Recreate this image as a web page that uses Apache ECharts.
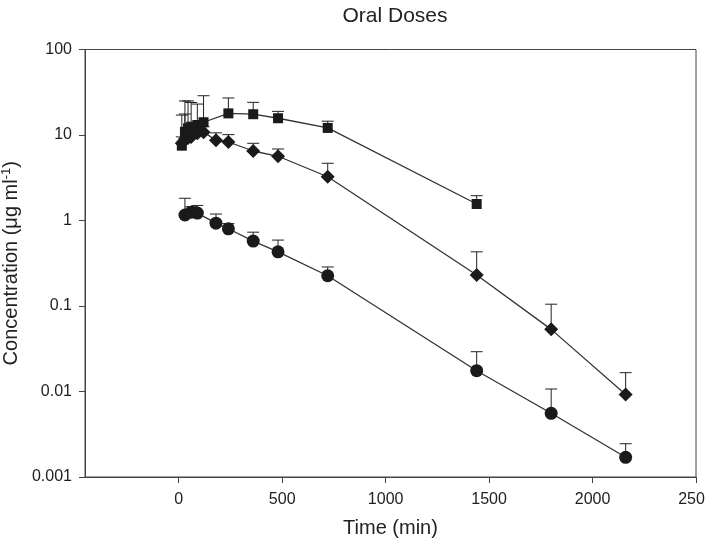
<!DOCTYPE html>
<html>
<head>
<meta charset="utf-8">
<script src="https://cdn.jsdelivr.net/npm/echarts@6/dist/echarts.min.js"></script>
<style>
html,body{margin:0;padding:0;background:#fff;}
#chart{width:705px;height:548px;}
</style>
</head>
<body>
<div id="chart"></div>
<script>
// ---- data ----
var squareTime = [15, 30, 45, 60, 90, 120, 240, 360, 480, 720, 1440];
var squareConc = [7.5, 10.9, 12.0, 12.5, 13.1, 14.1, 17.9, 17.5, 15.7, 12.1, 1.56];
var squareErrTop = [17.1, 25, 25, 24, 23, 28.8, 27.1, 24.1, 18.9, 14.5, 1.95];

var diamondTime = [15, 30, 45, 60, 90, 120, 180, 240, 360, 480, 720, 1440, 1800, 2160];
var diamondConc = [8.0, 9.0, 9.2, 9.5, 10.5, 10.8, 8.67, 8.28, 6.5, 5.64, 3.25, 0.23, 0.0533, 0.0092];
var diamondErrTop = [9.5, 17.6, 11.0, 11.5, 12.5, 12.5, 10.6, 10.1, 8.0, 6.86, 4.67, 0.43, 0.105, 0.0166];

var circleTime = [30, 60, 90, 180, 240, 360, 480, 720, 1440, 1800, 2160];
var circleConc = [1.16, 1.25, 1.22, 0.93, 0.80, 0.575, 0.43, 0.226, 0.0175, 0.00556, 0.0017];
var circleErrTop = [1.82, 1.45, 1.5, 1.19, 0.92, 0.73, 0.59, 0.286, 0.0292, 0.0107, 0.00245];

var xTicks = [0, 500, 1000, 1500, 2000, 2500];
var yTickLabels = ['0.001', '0.01', '0.1', '1', '10', '100'];

var titleText = 'Oral Doses';
var xName = 'Time (min)';

// ---- build ----
function pts(t, v) { return t.map(function (x, i) { return [x, v[i]]; }); }
function errs(t, v, e) { return t.map(function (x, i) { return [x, v[i], e[i]]; }); }

function renderErr(params, api) {
  var x = api.value(0), v = api.value(1), top = api.value(2);
  var p0 = api.coord([x, v]), p1 = api.coord([x, top]);
  var hw = 6;
  return {
    type: 'group',
    children: [
      { type: 'line', shape: { x1: p0[0], y1: p0[1], x2: p1[0], y2: p1[1] }, style: { stroke: '#222', lineWidth: 1 } },
      { type: 'line', shape: { x1: p1[0] - hw, y1: p1[1], x2: p1[0] + hw, y2: p1[1] }, style: { stroke: '#222', lineWidth: 1 } }
    ]
  };
}

var FONT = '"Liberation Sans", Arial, sans-serif';
var TXT = '#222';

function lineSeries(data, symbol, size) {
  return {
    type: 'line', data: data, symbol: symbol, symbolSize: size,
    lineStyle: { color: '#333', width: 1.3 },
    itemStyle: { color: '#1a1a1a', borderWidth: 0 },
    z: 3, silent: true, animation: false
  };
}
function errSeries(data) {
  return {
    type: 'custom', renderItem: renderErr, data: data,
    encode: { x: 0, y: [1, 2] }, z: 2, silent: true, animation: false
  };
}

var chart = echarts.init(document.getElementById('chart'), null, { renderer: 'canvas' });
chart.setOption({
  animation: false,
  backgroundColor: '#fff',
  title: {
    text: titleText, left: 390, textAlign: 'center', top: 1,
    textStyle: { fontFamily: FONT, fontSize: 21, fontWeight: 'normal', color: TXT }
  },
  grid: {
    left: 85, right: 9, top: 49.5, bottom: 71,
    containLabel: false, outerBoundsMode: 'none',
    show: true, borderColor: '#444', borderWidth: 1, backgroundColor: 'transparent'
  },
  xAxis: {
    type: 'value', min: -453, max: 2500,
    name: xName, nameLocation: 'middle', nameGap: 41,
    nameTextStyle: { fontFamily: FONT, fontSize: 20, color: TXT },
    axisLine: { show: true, onZero: false, lineStyle: { color: '#444', width: 1 } },
    axisTick: { show: true, length: 6, lineStyle: { color: '#444' }, customValues: xTicks },
    axisLabel: {
      fontFamily: FONT, fontSize: 16, color: TXT, margin: 15, customValues: xTicks,
      formatter: function (v) { return String(v); }
    },
    splitLine: { show: false }
  },
  yAxis: {
    type: 'log', logBase: 10, min: 0.001, max: 100,
    name: 'Concentration (μg ml{sup|-1})', nameLocation: 'middle', nameGap: 55,
    nameTextStyle: {
      fontFamily: FONT, fontSize: 20, color: TXT,
      rich: { sup: { fontFamily: FONT, fontSize: 13, color: TXT, verticalAlign: 'top', padding: [0, 0, 10, 0] } }
    },
    axisLine: { show: true, onZero: false, lineStyle: { color: '#444', width: 1 } },
    axisTick: { show: true, length: 6, lineStyle: { color: '#444' } },
    axisLabel: {
      fontFamily: FONT, fontSize: 16, color: TXT, margin: 13,
      formatter: function (v) {
        var idx = Math.round(Math.log10(v)) + 3;
        return yTickLabels[idx] !== undefined ? yTickLabels[idx] : '';
      }
    },
    splitLine: { show: false },
    minorTick: { show: false }
  },
  series: [
    errSeries(errs(squareTime, squareConc, squareErrTop)),
    errSeries(errs(diamondTime, diamondConc, diamondErrTop)),
    errSeries(errs(circleTime, circleConc, circleErrTop)),
    lineSeries(pts(squareTime, squareConc), 'rect', 10),
    lineSeries(pts(diamondTime, diamondConc), 'diamond', 14),
    lineSeries(pts(circleTime, circleConc), 'circle', 13)
  ]
});
</script>
</body>
</html>
